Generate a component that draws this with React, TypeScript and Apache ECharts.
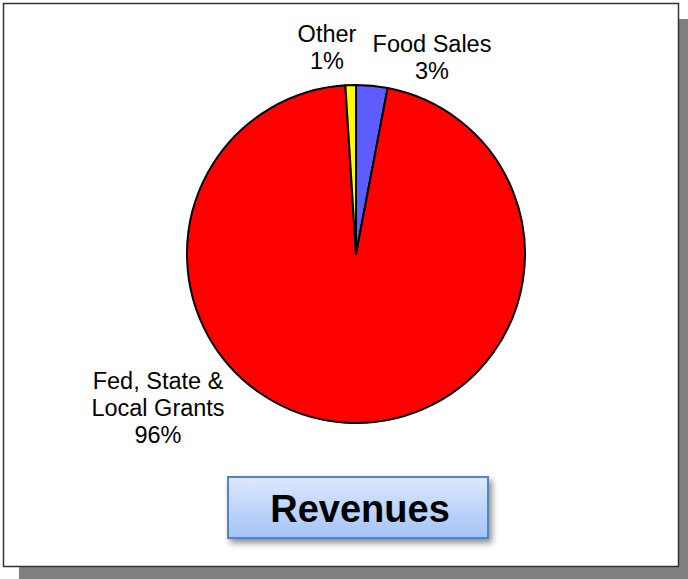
import React, { useEffect, useRef } from "react";
import * as echarts from "echarts";

const categories = ["Food Sales", "Fed, State &\nLocal Grants", "Other"];
const values = [3, 96, 1];
const colors = ["#5c5cff", "#ff0000", "#ffff00"];
const percentLabels = ["3%", "96%", "1%"];
const titleText = "Revenues";

const labelPositions = [
  { x: 432, y: 57 },
  { x: 158, y: 408 },
  { x: 327, y: 47 },
];

export default function App() {
  const ref = useRef<HTMLDivElement>(null);
  useEffect(() => {
    const chart = echarts.init(ref.current!, null, { renderer: "svg" });
    chart.setOption({
      animation: false,
      backgroundColor: "#ffffff",
      graphic: [
        {
          type: "rect",
          z: 0,
          shape: { x: 19, y: 19, width: 669, height: 560 },
          style: { fill: "#808080" },
        },
        {
          type: "rect",
          z: 1,
          shape: { x: 3.5, y: 3.5, width: 675, height: 563 },
          style: { fill: "#ffffff", stroke: "#333333", lineWidth: 1.5 },
        },
        {
          type: "rect",
          z: 20,
          shape: { x: 228, y: 477, width: 260, height: 61 },
          style: {
            fill: new echarts.graphic.LinearGradient(0, 0, 0, 1, [
              { offset: 0, color: "#dde9fd" },
              { offset: 1, color: "#a4c3f6" },
            ]),
            stroke: "#5683c6",
            lineWidth: 2,
            shadowColor: "rgba(0,0,0,0.45)",
            shadowBlur: 6,
            shadowOffsetX: 3,
            shadowOffsetY: 4,
          },
        },
        {
          type: "text",
          z: 21,
          x: 360,
          y: 509,
          style: {
            text: titleText,
            fontFamily: "Liberation Sans, Arial, sans-serif",
            fontWeight: "bold",
            fontSize: 38,
            fill: "#000000",
            align: "center",
            verticalAlign: "middle",
          },
        },
      ],
      series: [
        {
          type: "pie",
          z: 10,
          center: [356, 254],
          radius: 169,
          startAngle: 90,
          clockwise: true,
          data: categories.map((name, i) => ({
            name,
            value: values[i],
            itemStyle: { color: colors[i] },
          })),
          itemStyle: { borderColor: "#000000", borderWidth: 2 },
          label: {
            show: true,
            position: "outside",
            formatter: (p: any) => `${p.name}\n${percentLabels[p.dataIndex]}`,
            fontFamily: "Liberation Sans, Arial, sans-serif",
            fontSize: 23.5,
            lineHeight: 27,
            color: "#000000",
            align: "center",
          },
          labelLine: { show: false },
          labelLayout: (params: any) => {
            const p = labelPositions[params.dataIndex];
            return { x: p.x, y: p.y, align: "center", verticalAlign: "middle" };
          },
          emphasis: { disabled: true },
        },
      ],
    });
    return () => chart.dispose();
  }, []);
  return (
    <div
      ref={ref}
      style={{ position: "absolute", left: 0, top: 0, width: 688, height: 579 }}
    />
  );
}
